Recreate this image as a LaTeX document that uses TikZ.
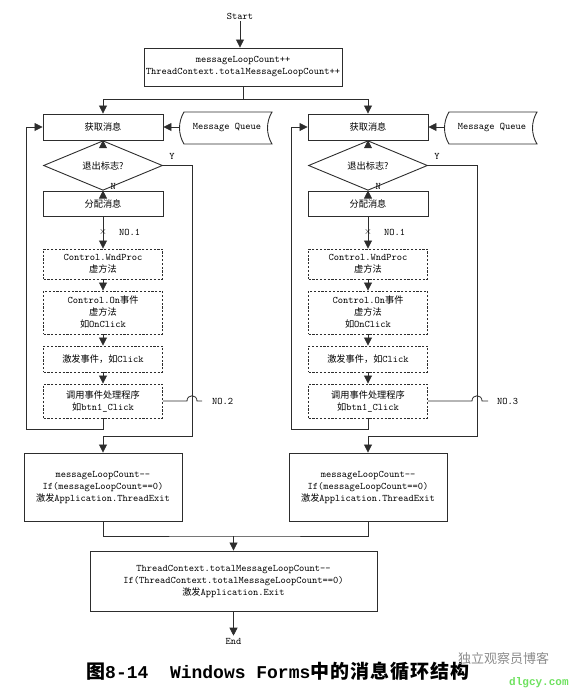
\documentclass[tikz,border=0pt]{standalone}
\usepackage{fontspec}
\newfontfamily\cjk[Scale=0.92]{Noto Sans CJK SC}
\newfontfamily\capcjk{Noto Sans CJK SC}
\newfontfamily\capmono{Liberation Mono}
\usetikzlibrary{arrows.meta,shapes.geometric}
\newcommand\zhs[1]{{\cjk #1}}
\definecolor{ln}{RGB}{45,45,45}
\definecolor{wmgreen}{RGB}{110,225,95}
\begin{document}
\begin{tikzpicture}[x=1pt,y=-1pt,
  every node/.style={font=\ttfamily\fontsize{10}{12}\selectfont, text=black},
  procbox/.style={draw=ln, line width=0.9pt, minimum width=120pt, minimum height=#1, inner sep=1pt, align=center},
  procbox/.default=26pt,
  dashbox/.style={procbox=#1, minimum width=119pt, dash pattern=on 2.2pt off 1.6pt},
  decision/.style={draw=ln, line width=0.9pt, diamond, minimum width=119pt, minimum height=29pt, inner sep=0pt},
  lbl/.style={inner sep=1pt},
  conn/.style={draw=ln, line width=0.8pt},
  arr/.style={conn, -{Triangle[length=8pt,width=8pt]}}
]
\useasboundingbox (0,0) rectangle (572,689);

% ---------- top ----------
\node[inner sep=2pt] (start) at (240,16) {Start};
\node[procbox=38pt, minimum width=198pt] (top) at (243,67) {messageLoopCount++\\ThreadContext.totalMessageLoopCount++};
\draw[arr] (start) -- (start |- top.north);
\draw[conn] (top.south) -- ++(0,13) coordinate (split);

% ---------- left column ----------
\node[procbox=26pt] (getL) at (103,127) {\zhs{获取消息}};
\node[decision] (decL) at (103,165.5) {\zhs{退出标志?}};
\node[procbox=25pt] (distL) at (103,203.5) {\zhs{分配消息}};
\node[dashbox=30pt] (wndL) at (103,264) {Control.WndProc\\\zhs{虚方法}};
\node[dashbox=43pt] (onL) at (103,312.5) {Control.On\zhs{事件}\\\zhs{虚方法}\\\zhs{如}OnClick};
\node[dashbox=26pt] (fireL) at (103,359) {\zhs{激发事件，如}Click};
\node[dashbox=34pt] (callL) at (103,401) {\zhs{调用事件处理程序}\\\zhs{如}btn1\_Click};
\node[procbox=68pt, minimum width=158pt] (endL) at (103,487) {messageLoopCount-{}-\\If(messageLoopCount==0)\\\zhs{激发}Application.ThreadExit};

\draw[draw=ln, line width=0.9pt] (184,112) -- (272,112) .. controls (266,122) and (266,134) .. (272,144) -- (184,144) .. controls (178,134) and (178,122) .. (184,112) -- cycle;
\node[lbl] (mqL) at (227,128) {Message Queue};
\coordinate (mqLtip) at (179.5,127);

\draw[arr] (split) -| (getL.north);
\draw[arr] (mqLtip) -- (getL.east);
\draw[arr] (getL) -- (decL);
\draw[arr] (decL) -- (distL);
\node[lbl, anchor=west] (nL) at (109.5,186) {N};
\draw[arr] (distL) -- (wndL);
\node[lbl] (xL) at (103,232) {$\times$};
\node[lbl, anchor=west] (no1L) at (118,232) {NO.1};
\draw[arr] (wndL) -- (onL);
\draw[arr] (onL) -- (fireL);
\draw[arr] (fireL) -- (callL);
\coordinate (fbL) at (26,429);
\draw[arr] (callL.south) |- (fbL) |- (getL.west);
\coordinate (yL) at (192,436);
\draw[arr] (decL.east) -| (yL) -| (endL.north);
\node[lbl] (yLab) at (172,156) {Y};
\coordinate (no2end) at (202,401);
\draw[conn] (callL.east) -- (187,401) .. controls (187,394) and (197,394) .. (197,401) -- (no2end);
\node[lbl, anchor=west] (no2) at (211,401) {NO.2};

% ---------- right column ----------
\node[procbox=26pt] (getR) at (368,127) {\zhs{获取消息}};
\node[decision] (decR) at (368,165.5) {\zhs{退出标志?}};
\node[procbox=25pt] (distR) at (368,203.5) {\zhs{分配消息}};
\node[dashbox=30pt] (wndR) at (368,264) {Control.WndProc\\\zhs{虚方法}};
\node[dashbox=43pt] (onR) at (368,312.5) {Control.On\zhs{事件}\\\zhs{虚方法}\\\zhs{如}OnClick};
\node[dashbox=26pt] (fireR) at (368,359) {\zhs{激发事件，如}Click};
\node[dashbox=34pt] (callR) at (368,401) {\zhs{调用事件处理程序}\\\zhs{如}btn1\_Click};
\node[procbox=68pt, minimum width=158pt] (endR) at (368,487) {messageLoopCount-{}-\\If(messageLoopCount==0)\\\zhs{激发}Application.ThreadExit};

\draw[draw=ln, line width=0.9pt] (449,112) -- (537,112) .. controls (531,122) and (531,134) .. (537,144) -- (449,144) .. controls (443,134) and (443,122) .. (449,112) -- cycle;
\node[lbl] (mqR) at (492,128) {Message Queue};
\coordinate (mqRtip) at (444.5,127);

\draw[arr] (split) -| (getR.north);
\draw[arr] (mqRtip) -- (getR.east);
\draw[arr] (getR) -- (decR);
\draw[arr] (decR) -- (distR);
\node[lbl, anchor=west] (nR) at (374.5,186) {N};
\draw[arr] (distR) -- (wndR);
\node[lbl] (xR) at (368,232) {$\times$};
\node[lbl, anchor=west] (no1R) at (383,232) {NO.1};
\draw[arr] (wndR) -- (onR);
\draw[arr] (onR) -- (fireR);
\draw[arr] (fireR) -- (callR);
\coordinate (fbR) at (291,429);
\draw[arr] (callR.south) |- (fbR) |- (getR.west);
\coordinate (yR) at (477,436);
\draw[arr] (decR.east) -| (yR) -| (endR.north);
\node[lbl] (yRab) at (437,156) {Y};
\coordinate (no3end) at (488,401);
\draw[conn] (callR.east) -- (472,401) .. controls (472,394) and (482,394) .. (482,401) -- (no3end);
\node[lbl, anchor=west] (no3) at (496,401) {NO.3};

% ---------- bottom ----------
\node[procbox=60pt, minimum width=287pt] (final) at (233.5,581) {ThreadContext.totalMessageLoopCount-{}-\\If(ThreadContext.totalMessageLoopCount==0)\\\zhs{激发}Application.Exit};
\coordinate (mg) at (233.5,536);
\draw[conn] (endL.south) |- (mg) -| (endR.south);
\draw[arr] (mg) -- (final.north);
\node[inner sep=2pt] (endt) at (233.5,641) {End};
\draw[arr] (final.south) -- (endt.north);

% ---------- caption ----------
\node[anchor=west, inner sep=0pt, text=black] (cap) at (86,671)
  {\capcjk\bfseries\fontsize{19}{22}\selectfont 图{\capmono\bfseries\fontsize{18}{22}\selectfont 8-14~~Windows~Forms}中\kern1pt 的\kern1pt 消\kern1pt 息\kern1pt 循\kern1pt 环\kern1pt 结\kern1pt 构};
\node[anchor=west, inner sep=0pt, text=black!45] (wm1) at (458,659) {\capcjk\fontsize{13}{15}\selectfont 独立观察员博客};
\node[anchor=west, inner sep=0pt, text=wmgreen] (wm2) at (509,683) {\capmono\bfseries\fontsize{11}{13}\selectfont dlgcy.com};
\end{tikzpicture}
\end{document}
